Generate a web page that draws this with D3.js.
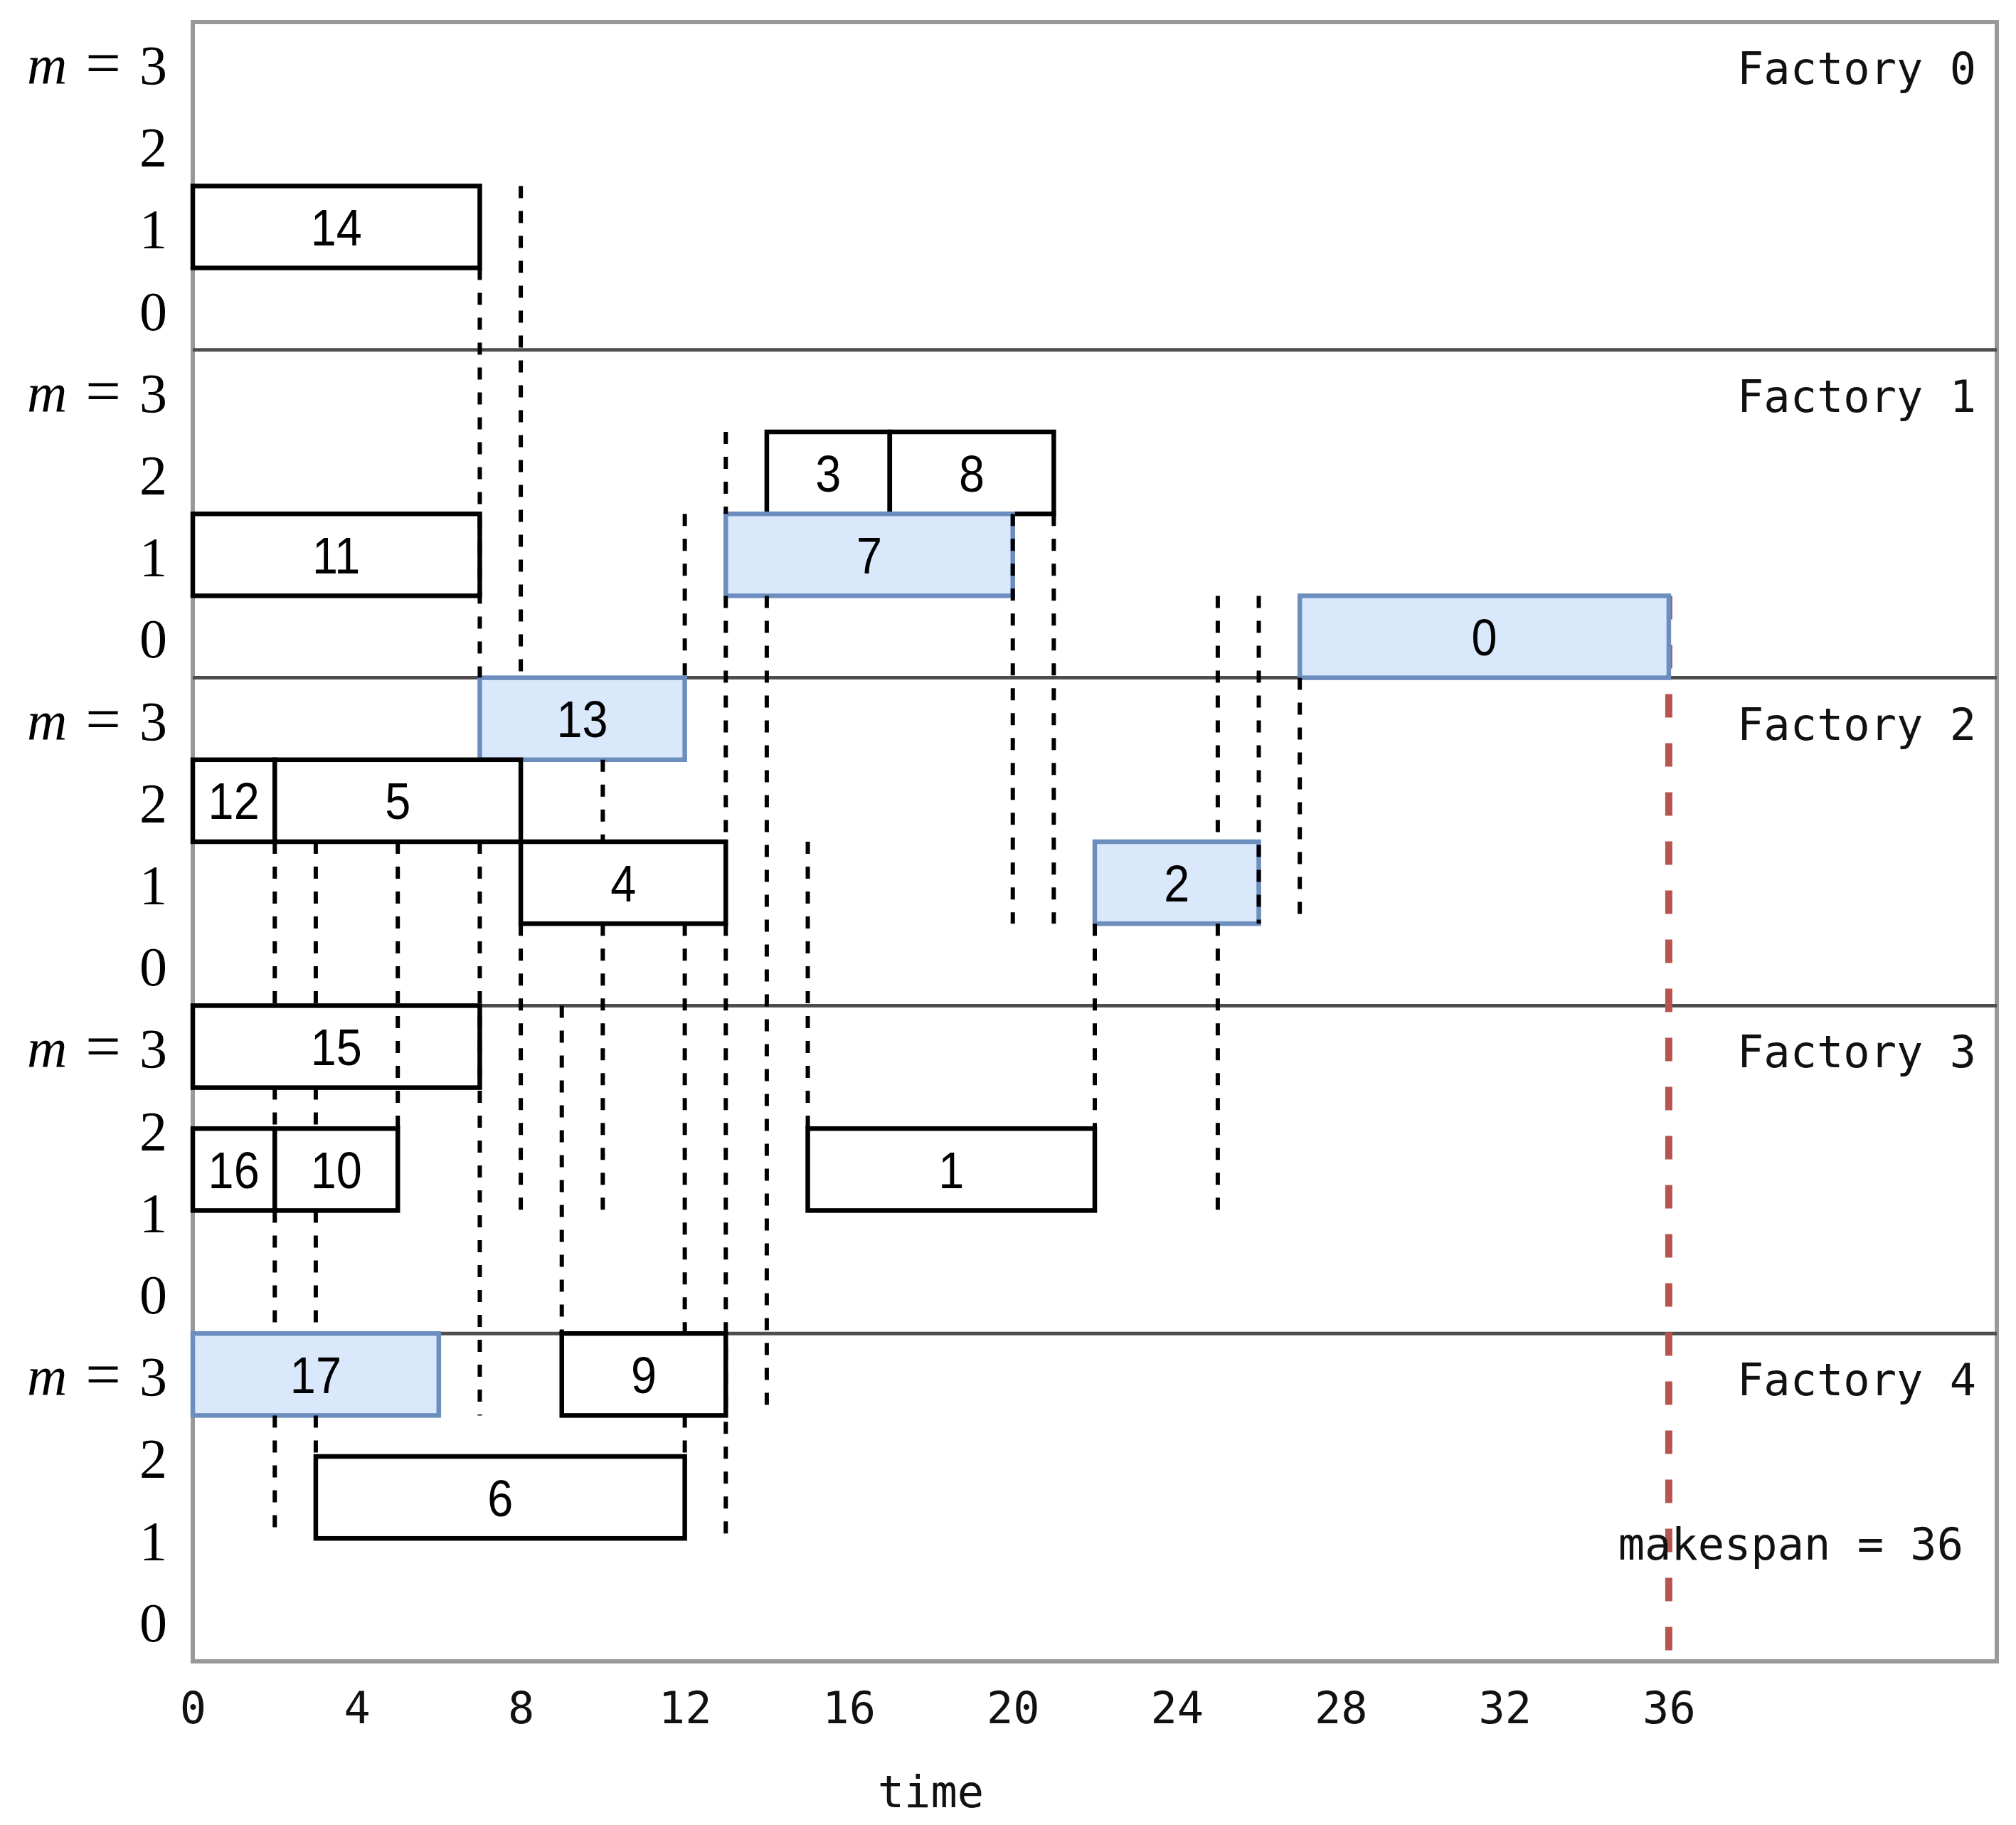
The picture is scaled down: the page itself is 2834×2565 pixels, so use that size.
<!DOCTYPE html>
<html>
<head>
<meta charset="utf-8">
<script src="https://cdn.jsdelivr.net/npm/d3@7"></script>
<style>
  body { margin: 0; background: #fff; }
  .mono { font-family: 'DejaVu Sans Mono', monospace; font-size: 62px; fill: #111; }
  .boxLabel { font-family: 'Liberation Sans', Arial, sans-serif; font-size: 72px; fill: #000; }
  .yTick text { font-family: 'Liberation Serif', 'Times New Roman', serif; font-size: 78px; fill: #000; }
</style>
</head>
<body>
<div id="chart"></div>
<script>
const factories = [0, 1, 2, 3, 4];
const machineTicks = [3, 2, 1, 0];
const timeTicks = [0, 4, 8, 12, 16, 20, 24, 28, 32, 36];
const timeMax = 44;
const makespan = 36;

// [job, factory, machine, start, end, critical]
const jobs = [
  [14, 0, 1, 0, 7, false],
  [11, 1, 1, 0, 7, false],
  [3, 1, 2, 14, 17, false],
  [8, 1, 2, 17, 21, false],
  [7, 1, 1, 13, 20, true],
  [0, 1, 0, 27, 36, true],
  [13, 2, 3, 7, 12, true],
  [12, 2, 2, 0, 2, false],
  [5, 2, 2, 2, 8, false],
  [4, 2, 1, 8, 13, false],
  [2, 2, 1, 22, 26, true],
  [15, 3, 3, 0, 7, false],
  [16, 3, 1.5, 0, 2, false],
  [10, 3, 1.5, 2, 5, false],
  [1, 3, 1.5, 15, 22, false],
  [17, 4, 3, 0, 6, true],
  [9, 4, 3, 9, 13, false],
  [6, 4, 1.5, 3, 12, false],
];

// dashed links: [time, factory top, level top, factory bottom, level bottom]
const links = [
  [2, 2, 1.5, 3, 3.5], [2, 3, 2.5, 3, 2], [2, 3, 1, 4, 3.5], [2, 4, 2.5, 4, 1],
  [3, 2, 1.5, 3, 3.5], [3, 3, 2.5, 3, 2], [3, 3, 1, 4, 3.5], [3, 4, 2.5, 4, 2],
  [5, 2, 1.5, 3, 2],
  [7, 0, 0.5, 2, 3.5], [7, 2, 1.5, 4, 2.5],
  [8, 0, 1.5, 2, 3.5], [8, 2, 0.5, 3, 1],
  [9, 3, 3.5, 4, 3.5],
  [10, 2, 2.5, 2, 1.5], [10, 2, 0.5, 3, 1],
  [12, 1, 1.5, 2, 3.5], [12, 2, 0.5, 4, 3.5], [12, 4, 2.5, 4, 2],
  [13, 1, 2.5, 1, 1.5], [13, 1, 0.5, 2, 1.5], [13, 2, 0.5, 4, 1],
  [14, 1, 0.5, 4, 2.5],
  [15, 2, 1.5, 3, 2],
  [20, 1, 1.5, 2, 0.5],
  [21, 1, 1.5, 2, 0.5],
  [22, 2, 0.5, 3, 2],
  [25, 1, 0.5, 2, 1.5], [25, 2, 0.5, 3, 1],
  [26, 1, 0.5, 2, 0.5],
  [27, 2, 3.5, 2, 0.5],
];

const width = 2834, height = 2565;
const margin = { top: 31, right: 27, bottom: 230, left: 271 };

const svg = d3.select('#chart').append('svg')
  .attr('width', width)
  .attr('height', height)
  .style('background', '#fff');

const x = d3.scaleLinear().domain([0, timeMax]).range([margin.left, width - margin.right]);
const band = d3.scaleBand().domain(factories).range([margin.top, height - margin.bottom]);
const yLocal = d3.scaleLinear().domain([3.5, -0.5]).range([0, band.bandwidth()]);
const y = (f, v) => band(f) + yLocal(v);

// frame
svg.append('rect')
  .attr('x', x(0)).attr('y', margin.top)
  .attr('width', x(timeMax) - x(0))
  .attr('height', height - margin.bottom - margin.top)
  .attr('fill', 'white')
  .attr('stroke', '#999')
  .attr('stroke-width', 6);

// factory separators
svg.selectAll('line.sep')
  .data(factories.slice(1))
  .enter().append('line')
  .attr('class', 'sep')
  .attr('x1', x(0)).attr('x2', x(timeMax))
  .attr('y1', d => band(d)).attr('y2', d => band(d))
  .attr('stroke', '#4d4d4d')
  .attr('stroke-width', 5);

// y axis per factory
factories.forEach(f => {
  const g = svg.append('g')
    .attr('class', 'yTick')
    .attr('transform', `translate(${x(0)},${band(f)})`)
    .call(d3.axisLeft(yLocal).tickValues(machineTicks).tickFormat(d3.format('d')).tickSize(0).tickPadding(36));
  g.select('.domain').remove();
  g.selectAll('text').attr('dy', '0.37em');
  g.selectAll('.tick text')
    .filter(d => d === 3)
    .text(null)
    .call(t => {
      t.append('tspan').attr('font-style', 'italic').text('m');
      t.append('tspan').attr('dx', 26).attr('font-size', 88).text('=');
      t.append('tspan').attr('dx', 26).text('3');
    });

  svg.append('text')
    .attr('class', 'mono')
    .attr('x', 2778)
    .attr('y', band(f) + 87)
    .attr('text-anchor', 'end')
    .text('Factory ' + f);
});

// makespan line
svg.append('line')
  .attr('x1', x(makespan)).attr('x2', x(makespan))
  .attr('y1', y(1, 0.5)).attr('y2', y(4, -0.5))
  .attr('stroke', '#b85450')
  .attr('stroke-width', 10)
  .attr('stroke-dasharray', '33 36');

// jobs
const boxes = svg.selectAll('g.job')
  .data(jobs)
  .enter().append('g')
  .attr('class', 'job');

boxes.append('rect')
  .attr('x', d => x(d[3]))
  .attr('y', d => y(d[1], d[2] + 0.5))
  .attr('width', d => x(d[4]) - x(d[3]))
  .attr('height', yLocal(0) - yLocal(1))
  .attr('fill', d => d[5] ? '#dae8fc' : 'white')
  .attr('stroke', d => d[5] ? '#6c8ebf' : '#000')
  .attr('stroke-width', 6.5);

boxes.append('text')
  .attr('class', 'boxLabel')
  .attr('text-anchor', 'middle')
  .attr('dy', '0.36em')
  .attr('transform', d => `translate(${x((d[3] + d[4]) / 2)},${y(d[1], d[2])}) scale(0.9,1)`)
  .text(d => d[0]);

// dashed links
svg.selectAll('line.link')
  .data(links)
  .enter().append('line')
  .attr('class', 'link')
  .attr('x1', d => x(d[0])).attr('x2', d => x(d[0]))
  .attr('y1', d => y(d[1], d[2])).attr('y2', d => y(d[3], d[4]))
  .attr('stroke', '#000')
  .attr('stroke-width', 6)
  .attr('stroke-dasharray', '17 18');

// x axis
const xAxis = svg.append('g')
  .attr('class', 'mono')
  .attr('transform', `translate(0,${height - margin.bottom})`)
  .call(d3.axisBottom(x).tickValues(timeTicks).tickSize(0).tickPadding(43));
xAxis.select('.domain').remove();
xAxis.selectAll('text')
  .attr('font-family', "'DejaVu Sans Mono', monospace")
  .attr('font-size', 62)
  .attr('fill', '#111');

svg.append('text')
  .attr('class', 'mono')
  .attr('x', x(makespan / 2))
  .attr('y', 2540)
  .attr('text-anchor', 'middle')
  .text('time');

svg.append('text')
  .attr('class', 'mono')
  .attr('x', 2760)
  .attr('y', 2192)
  .attr('text-anchor', 'end')
  .text('makespan = ' + makespan);
</script>
</body>
</html>
